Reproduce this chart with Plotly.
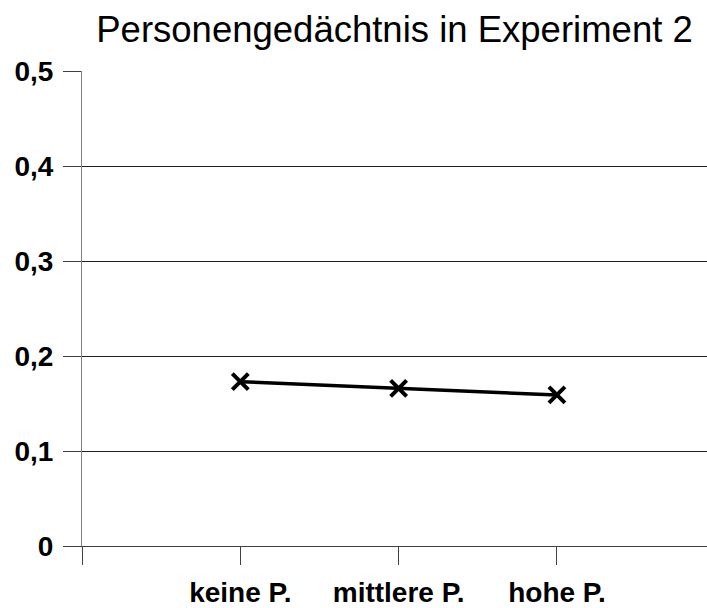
import plotly.graph_objects as go

title_text = "Personengedächtnis in Experiment 2"
categories = ["keine P.", "mittlere P.", "hohe P."]
values = [0.173, 0.166, 0.159]
y_tick_vals = [0, 0.1, 0.2, 0.3, 0.4, 0.5]
y_tick_labels = ["0", "0,1", "0,2", "0,3", "0,4", "0,5"]

x_pos = list(range(1, len(categories) + 1))
x_tick_vals = [0] + x_pos + [len(categories) + 1]
x_tick_text = [""] + categories + [""]

FONT = "Liberation Sans, Arial, sans-serif"

fig = go.Figure()
fig.add_trace(go.Scatter(
    x=x_pos, y=values, mode="lines+markers",
    line=dict(color="black", width=3.5),
    marker=dict(symbol="x-thin", size=16, line=dict(color="black", width=4), color="black"),
    showlegend=False,
))

fig.update_layout(
    width=707, height=608,
    margin=dict(l=82, r=0, t=71, b=59),
    paper_bgcolor="white", plot_bgcolor="white",
    font=dict(family=FONT, color="black"),
    title=dict(text=title_text, x=0.5, xref="paper", xanchor="center",
               y=0.952, yref="container", yanchor="middle",
               font=dict(size=36.5, family=FONT, color="black")),
    xaxis=dict(range=[0, 3.948], tickvals=x_tick_vals, ticktext=x_tick_text,
               showgrid=False, zeroline=False, showline=True, linecolor="#404040", linewidth=1,
               ticks="outside", ticklen=18, tickcolor="#404040", tickwidth=1,
               tickfont=dict(size=28, family=FONT, color="black", weight="bold"),
               ticklabelstandoff=3),
    yaxis=dict(range=[0, 0.5], tickvals=y_tick_vals, ticktext=y_tick_labels,
               showgrid=True, gridcolor="#202020", gridwidth=1, zeroline=False,
               showline=True, linecolor="#808080", linewidth=1,
               ticks="outside", ticklen=18, tickcolor="#404040", tickwidth=1,
               tickfont=dict(size=28, family=FONT, color="black", weight="bold"),
               ticklabelstandoff=4),
)

fig.write_html("out.html", config={"displayModeBar": False},
               post_script="document.body.style.margin='0';document.body.style.overflow='hidden';")
